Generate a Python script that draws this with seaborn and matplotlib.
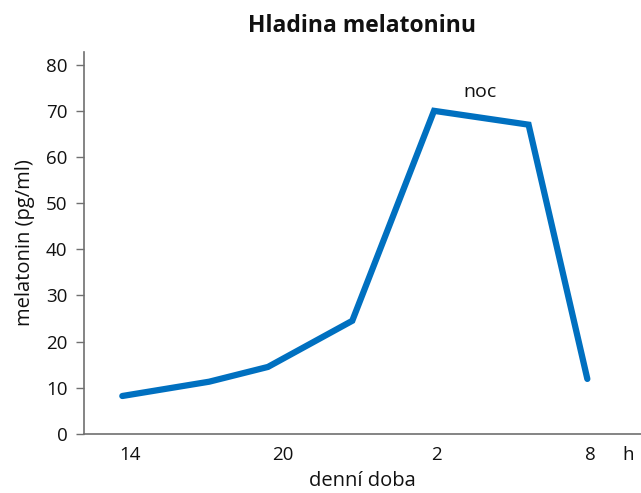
import pandas as pd
import matplotlib
matplotlib.use("Agg")
import matplotlib.pyplot as plt
import seaborn as sns

# hodiny od 14:00 (26 = 2:00, 32 = 8:00 dalsiho dne)
hours = [13.7, 17.1, 19.4, 22.7, 25.9, 29.6, 31.9]
melatonin = [8.2, 11.3, 14.5, 24.5, 70.0, 67.0, 11.9]
tick_pos = [14, 20, 26, 32, 33.5]
tick_labels = ["14", "20", "2", "8", "h"]

df = pd.DataFrame({"hodina": hours, "melatonin": melatonin})

sns.set_style("white")
plt.rcParams["font.family"] = ["Open Sans", "DejaVu Sans"]
plt.rcParams["text.color"] = "#111111"
plt.rcParams["axes.labelcolor"] = "#111111"

fig = plt.figure(figsize=(6.41, 4.93), dpi=100)
ax = fig.add_axes([0.131, 0.12, 0.869, 0.775])

sns.lineplot(data=df, x="hodina", y="melatonin", color="#0070C0",
             linewidth=4.5, ax=ax, solid_joinstyle="miter")

ax.set_xlim(12.2, 34.0)
ax.set_ylim(0, 82.8)
ax.set_yticks(range(0, 81, 10))
ax.set_xticks(tick_pos)
ax.set_xticklabels(tick_labels)
ax.tick_params(axis="y", length=6, width=1, color="#707070", labelsize=13.5,
               labelcolor="#111111", pad=6, left=True)
ax.tick_params(axis="x", length=0, labelsize=13.5, labelcolor="#111111", pad=9)

for s in ["top", "right"]:
    ax.spines[s].set_visible(False)
for s in ["left", "bottom"]:
    ax.spines[s].set_color("#707070")
    ax.spines[s].set_linewidth(1.2)

ax.set_xlabel("denní doba", fontsize=14.5, labelpad=5)
ax.set_ylabel("melatonin (pg/ml)", fontsize=14.5, labelpad=8)
ax.set_title("Hladina melatoninu", fontsize=16.5, fontweight="bold", pad=14)
ax.text(27.7, 74, "noc", fontsize=14, ha="center", va="center")

fig.savefig("out.png", dpi=100)
